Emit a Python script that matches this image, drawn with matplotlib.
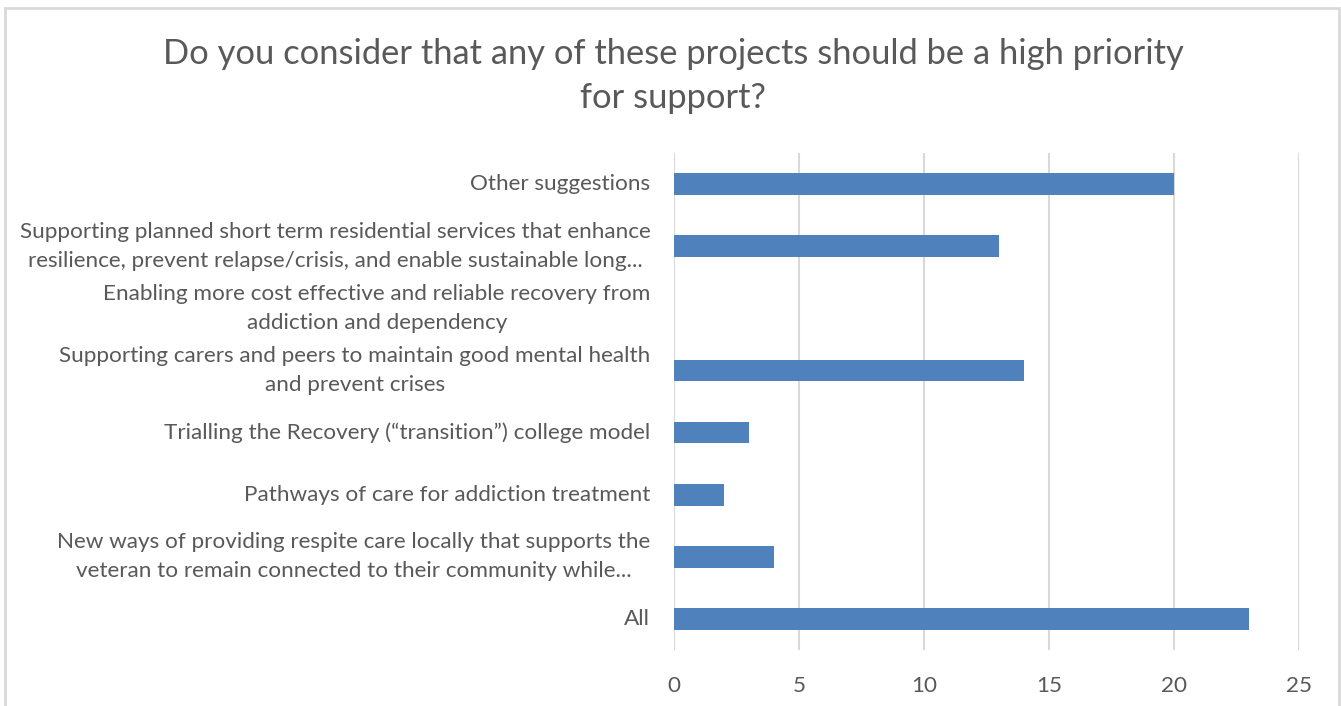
import matplotlib
matplotlib.use("Agg")
import matplotlib.pyplot as plt
from matplotlib.patches import Rectangle

plt.rcParams['font.family'] = ['Lato', 'DejaVu Sans']

title = "Do you consider that any of these projects should be a high priority\nfor support?"

categories = [
    "All",
    "New ways of providing respite care locally that supports the\nveteran to remain connected to their community while...",
    "Pathways of care for addiction treatment",
    "Trialling the Recovery (\u201ctransition\u201d) college model",
    "Supporting carers and peers to maintain good mental health\nand prevent crises",
    "Enabling more cost effective and reliable recovery from\naddiction and dependency",
    "Supporting planned short term residential services that enhance\nresilience, prevent relapse/crisis, and enable sustainable long...",
    "Other suggestions",
]
values = [23, 4, 2, 3, 14, 0, 13, 20]
x_ticks = [0, 5, 10, 15, 20, 25]

text_grey = "#595959"
grid_grey = "#D9D9D9"
bar_blue = "#4F81BD"

fig = plt.figure(figsize=(13.41, 7.06), dpi=100)
fig.patch.set_facecolor("white")

# outer chart border
fig.add_artist(Rectangle((5 / 1341, -0.01), 1334 / 1341, 1 - 8 / 706 + 0.01,
                         transform=fig.transFigure, fill=False,
                         edgecolor="#D9D9D9", linewidth=2))

ax = fig.add_axes([674 / 1341, 1 - 650 / 706, 625 / 1341, 497 / 706])
ypos = list(range(len(categories)))
ax.barh(ypos, values, height=0.35, color=bar_blue, zorder=3)

ax.set_xlim(0, 25)
ax.set_ylim(-0.5, len(categories) - 0.5)
ax.set_xticks(x_ticks)
ax.set_xticklabels([str(t) for t in x_ticks])
ax.set_yticks(ypos)
ax.set_yticklabels(categories, multialignment="center", linespacing=1.55,
                   verticalalignment="center")

for s in ax.spines.values():
    s.set_visible(False)
ax.grid(axis="x", color=grid_grey, linewidth=1.5, zorder=0)
ax.tick_params(axis="both", length=0, labelsize=16.2, colors=text_grey)
ax.tick_params(axis="y", pad=17)
ax.tick_params(axis="x", pad=19)

fig.text(673 / 1341, 1 - 76 / 706, title, ha="center", va="center",
         fontsize=24.8, color=text_grey, linespacing=1.45)

fig.savefig("out.png", dpi=100, facecolor="white")
